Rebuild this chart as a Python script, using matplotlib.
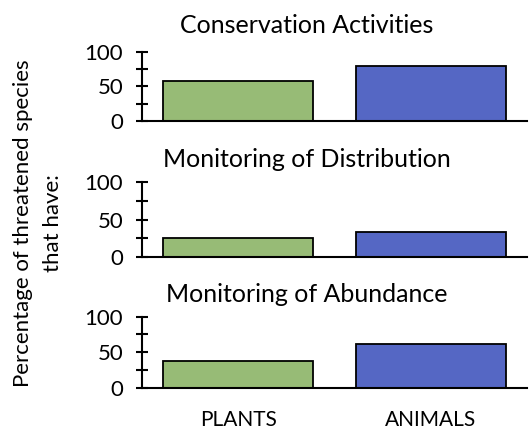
import matplotlib.pyplot as plt
import numpy as np

plt.rcParams['font.family'] = ['Lato', 'DejaVu Sans']

groups = ['PLANTS', 'ANIMALS']
titles = ['Conservation Activities', 'Monitoring of Distribution', 'Monitoring of Abundance']
conservation = [57, 80]
distribution = [26, 34]
abundance = [38, 61]
colors = ['#97bb76', '#5567c4']
ylabel_lines = ['Percentage of threatened species', 'that have:']

W, H = 530, 430
fig = plt.figure(figsize=(W / 100, H / 100), dpi=100)

# panel extents in pixels (top, bottom)
panels = [(51.7, 121.0), (181.7, 257.3), (316.7, 387.7)]
title_base = [33, 167, 302]
left, right = 142, 527

x = np.arange(len(groups))
for i, vals in enumerate([conservation, distribution, abundance]):
    top, bot = panels[i]
    ax = fig.add_axes([left / W, 1 - bot / H, (right - left) / W, (bot - top) / H])
    ax.bar(x, vals, width=0.78, color=colors, edgecolor='black', linewidth=1.3)
    ax.set_xlim(-0.5, 1.5)
    ax.set_ylim(0, 100)
    ax.set_yticks([0, 50, 100])
    ax.set_yticks([25, 75], minor=True)
    ax.tick_params(axis='y', which='both', direction='inout', length=9, width=1.5,
                   labelsize=16, pad=9)
    ax.set_xticks([])
    for s in ['top', 'right']:
        ax.spines[s].set_visible(False)
    ax.spines['left'].set_linewidth(1.5)
    ax.spines['bottom'].set_linewidth(1.5)
    fig.text(307 / W, 1 - title_base[i] / H, titles[i], ha='center', va='baseline', fontsize=18)
    if i == 2:
        ax.set_xticks(x)
        ax.set_xticklabels(groups)
        ax.tick_params(axis='x', length=0, labelsize=15, pad=16)

# y label as two rotated lines
for xp, line in zip([23, 53], ylabel_lines):
    fig.text(xp / W, 1 - 223 / H, line, rotation=90, ha='center', va='center', fontsize=16)

fig.savefig('out.png', dpi=100)
